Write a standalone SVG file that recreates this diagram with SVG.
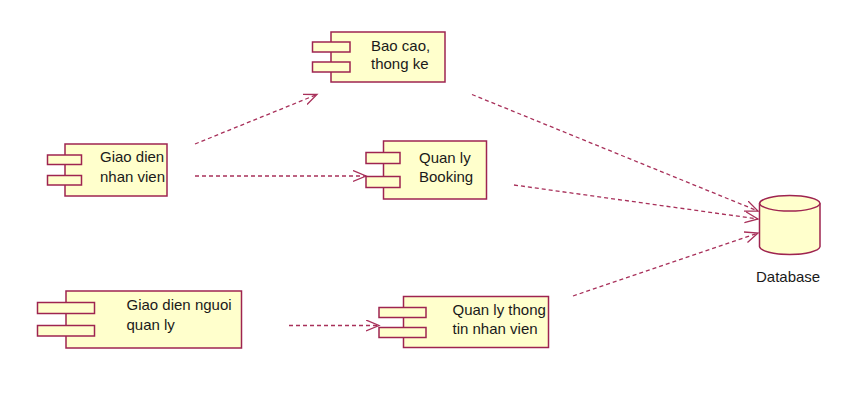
<svg xmlns="http://www.w3.org/2000/svg" width="860" height="405" viewBox="0 0 860 405">
<style>
.box{fill:#ffffcc;stroke:#9e2450;stroke-width:1.5}
.lbl{font-family:"Liberation Sans",Arial,sans-serif;font-size:15px;fill:#1a1a1a}
.dep{fill:none;stroke:#a8305a;stroke-width:1.3;stroke-dasharray:4 3;marker-end:url(#open)}
</style>
<defs>
<marker id="open" markerUnits="userSpaceOnUse" markerWidth="16" markerHeight="14" refX="13" refY="6" orient="auto" viewBox="0 0 16 14">
<path d="M0,0.5 L13,6 L0,11.5" fill="none" stroke="#a8305a" stroke-width="1.3"/>
</marker>
</defs>
<rect width="860" height="405" fill="#ffffff"/>
<g id="connectors">
<line class="dep" x1="195" y1="144" x2="317" y2="94.5"/>
<line class="dep" x1="195" y1="176" x2="366" y2="176"/>
<line class="dep" x1="289" y1="325.5" x2="379" y2="325.5"/>
<line class="dep" x1="472" y1="94.5" x2="758" y2="211"/>
<line class="dep" x1="514" y1="185" x2="758" y2="219"/>
<line class="dep" x1="573" y1="296" x2="758" y2="233"/>
</g>
<g id="baocao">
<rect class="box" x="331" y="32" width="114" height="50"/>
<rect class="box" x="312.5" y="42" width="37.5" height="10"/>
<rect class="box" x="312.5" y="62" width="37.5" height="10"/>
<text class="lbl" x="371" y="51">Bao cao,</text>
<text class="lbl" x="371" y="68.5">thong ke</text>
</g>
<g id="giaodiennhanvien">
<rect class="box" x="65" y="144" width="102" height="52"/>
<rect class="box" x="47.5" y="155" width="34" height="9.5"/>
<rect class="box" x="47.5" y="175.5" width="34" height="9.5"/>
<text class="lbl" x="100" y="162">Giao dien</text>
<text class="lbl" x="100" y="181.5">nhan vien</text>
</g>
<g id="quanlybooking">
<rect class="box" x="383.5" y="141" width="103" height="58"/>
<rect class="box" x="366" y="152.5" width="34" height="11"/>
<rect class="box" x="366" y="176.5" width="34" height="11"/>
<text class="lbl" x="419" y="163">Quan ly</text>
<text class="lbl" x="419" y="182">Booking</text>
</g>
<g id="giaodiennguoiquanly">
<rect class="box" x="66" y="291" width="175.5" height="57"/>
<rect class="box" x="37.5" y="302.5" width="57" height="11"/>
<rect class="box" x="37.5" y="325.5" width="57" height="10.5"/>
<text class="lbl" x="126.5" y="310">Giao dien nguoi</text>
<text class="lbl" x="126.5" y="329.5">quan ly</text>
</g>
<g id="quanlythongtinnhanvien">
<rect class="box" x="403.5" y="296.5" width="145" height="51"/>
<rect class="box" x="379" y="307.5" width="47" height="10"/>
<rect class="box" x="379" y="327.5" width="47" height="10"/>
<text class="lbl" x="452.5" y="314.5">Quan ly thong</text>
<text class="lbl" x="452.5" y="334">tin nhan vien</text>
</g>
<g id="database">
<path class="box" d="M759.5,203.3 L759.5,246.7 A30.3,8.3 0 0 0 820,246.7 L820,203.3 A30.3,8.3 0 0 0 759.5,203.3 Z"/>
<path d="M759.5,203.3 A30.3,8.3 0 0 0 820,203.3" fill="none" stroke="#9e2450" stroke-width="1.5"/>
<text class="lbl" x="756" y="281.5">Database</text>
</g>
</svg>
